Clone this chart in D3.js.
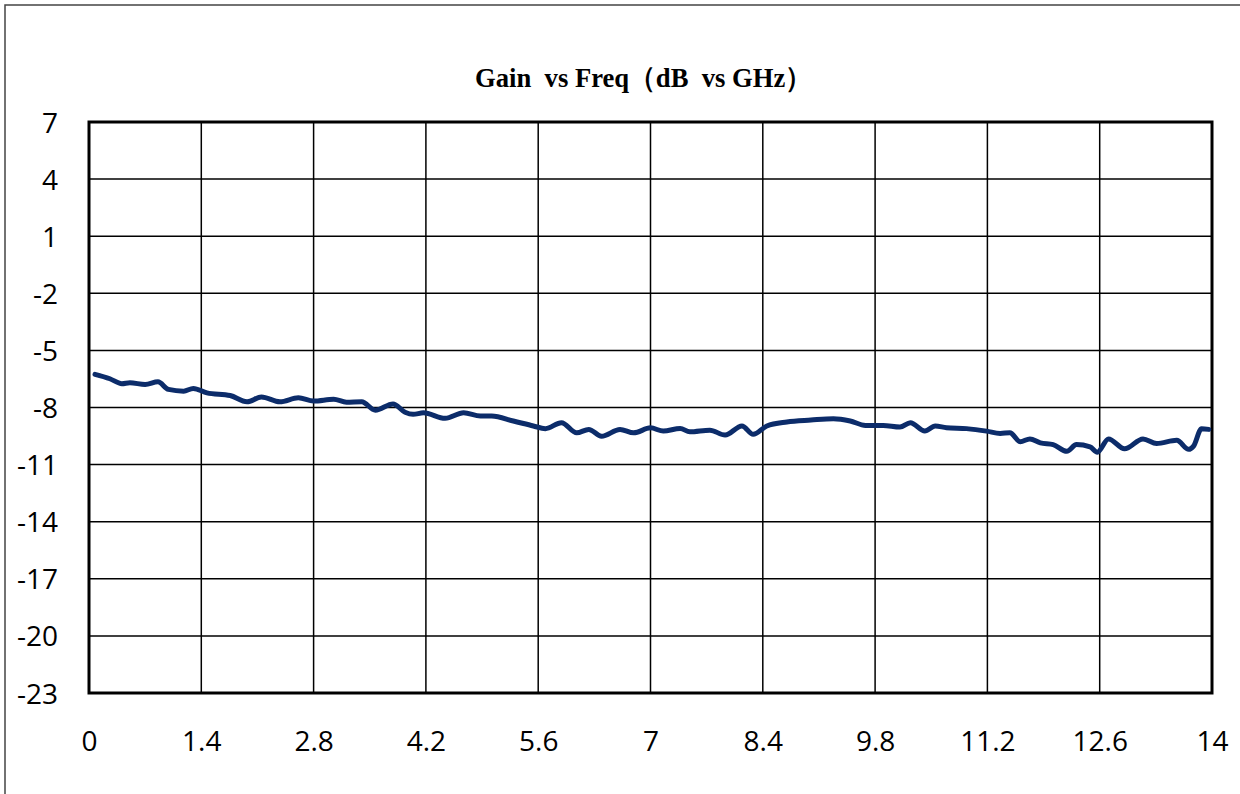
<!DOCTYPE html>
<html><head><meta charset="utf-8">
<script src="https://cdn.jsdelivr.net/npm/d3@7"></script>
<style>body{margin:0;background:#fff}svg{display:block}</style>
</head><body>
<svg id="c" width="1240" height="794"></svg>
<script>
const freq = [0.075,0.26,0.41,0.51,0.70,0.86,0.99,1.18,1.30,1.47,1.76,1.97,2.15,2.38,2.61,2.80,3.05,3.21,3.40,3.57,3.79,3.94,4.04,4.17,4.44,4.67,4.88,5.02,5.29,5.54,5.69,5.89,6.08,6.23,6.39,6.62,6.79,7.00,7.16,7.37,7.49,7.74,7.93,8.14,8.28,8.45,8.70,9.00,9.28,9.49,9.68,9.90,10.11,10.24,10.42,10.55,10.69,10.94,11.19,11.36,11.48,11.61,11.73,11.86,12.02,12.19,12.31,12.48,12.57,12.71,12.91,13.14,13.31,13.56,13.71,13.77,13.87,13.96];
const gain = [-6.26,-6.49,-6.75,-6.70,-6.79,-6.65,-7.05,-7.14,-7.00,-7.23,-7.37,-7.70,-7.45,-7.70,-7.49,-7.66,-7.57,-7.72,-7.70,-8.14,-7.81,-8.25,-8.36,-8.28,-8.57,-8.28,-8.45,-8.45,-8.71,-8.97,-9.11,-8.80,-9.33,-9.15,-9.51,-9.15,-9.33,-9.07,-9.24,-9.10,-9.28,-9.19,-9.45,-8.97,-9.41,-8.97,-8.76,-8.66,-8.59,-8.71,-8.94,-8.94,-9.03,-8.80,-9.24,-8.97,-9.06,-9.11,-9.24,-9.36,-9.33,-9.80,-9.65,-9.86,-9.95,-10.30,-9.95,-10.07,-10.35,-9.65,-10.17,-9.65,-9.89,-9.72,-10.20,-10.03,-9.11,-9.15];
const xTicks = [0,1.4,2.8,4.2,5.6,7,8.4,9.8,11.2,12.6,14];
const yTicks = [7,4,1,-2,-5,-8,-11,-14,-17,-20,-23];
const title = "Gain  vs Freq（dB  vs GHz）";

const svg = d3.select("#c");
const L=89, R=1212, T=122, B=693;
const x = d3.scaleLinear().domain([0,14]).range([L,R]);
const y = d3.scaleLinear().domain([-23,7]).range([B,T]);

// outer frame
svg.append("path").attr("d","M5,800 L5,5 L1245,5").attr("fill","none").attr("stroke","#444").attr("stroke-width",1.5);

// title
svg.append("text").attr("x",475).attr("y",87).attr("text-anchor","start")
  .attr("font-family","'Liberation Serif','Times New Roman',serif").attr("font-weight","bold")
  .attr("font-size",28).attr("fill","#000")
  .attr("textLength",337).attr("lengthAdjust","spacingAndGlyphs")
  .style("white-space","pre").text(title);

// grid
const g = svg.append("g");
g.selectAll(".vg").data(xTicks).join("line").attr("x1",d=>x(d)).attr("x2",d=>x(d)).attr("y1",T).attr("y2",B)
  .attr("stroke","#000").attr("stroke-width",1.5);
g.selectAll(".hg").data(yTicks).join("line").attr("y1",d=>y(d)).attr("y2",d=>y(d)).attr("x1",L).attr("x2",R)
  .attr("stroke","#000").attr("stroke-width",1.5);
g.append("rect").attr("x",L).attr("y",T).attr("width",R-L).attr("height",B-T).attr("fill","none").attr("stroke","#000").attr("stroke-width",3);

// axes via d3 axis, styled
const yAxis = svg.append("g").attr("transform",`translate(58,0)`).call(d3.axisLeft(y).tickValues(yTicks).tickSize(0).tickFormat(d=>String(d)));
yAxis.select(".domain").remove();
yAxis.selectAll("text").attr("x",0).attr("font-family","'Open Sans',sans-serif").attr("font-size",28).attr("fill","#000").attr("dy","0.36em");
const xAxis = svg.append("g").attr("transform",`translate(0,741)`).call(d3.axisBottom(x).tickValues(xTicks).tickSize(0).tickFormat(d=>String(d)));
xAxis.select(".domain").remove();
xAxis.selectAll("text").attr("y",0).attr("font-family","'Open Sans',sans-serif").attr("font-size",28).attr("fill","#000").attr("dy","0.36em");

// line
const data = freq.map((f,i)=>[f,gain[i]]);
svg.append("path").datum(data).attr("fill","none").attr("stroke","#0c2c6a").attr("stroke-width",5)
  .attr("stroke-linejoin","round").attr("stroke-linecap","round")
  .attr("d",d3.line().x(d=>x(d[0])).y(d=>y(d[1])).curve(d3.curveMonotoneX));
</script>
</body></html>
